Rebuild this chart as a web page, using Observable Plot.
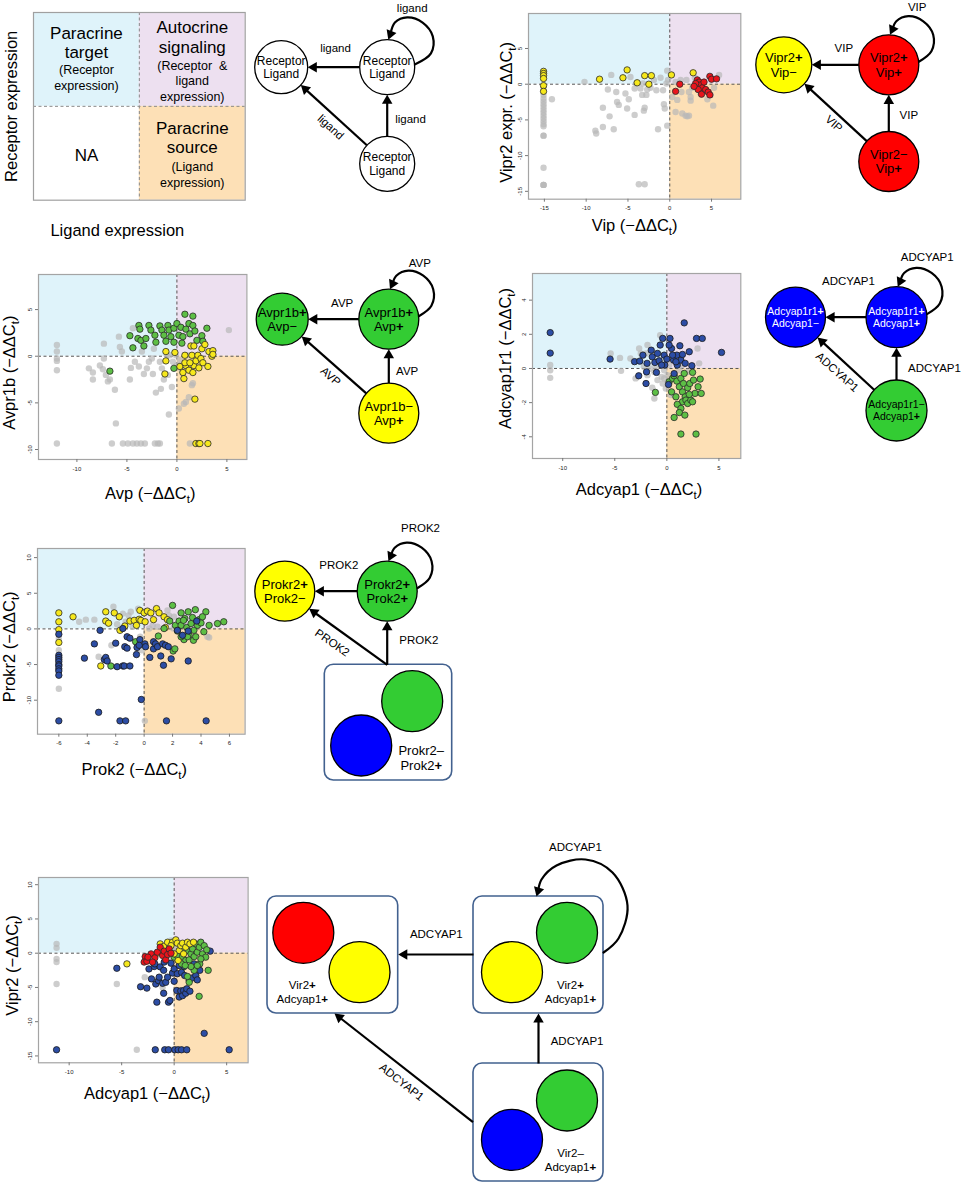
<!DOCTYPE html>
<html><head><meta charset="utf-8">
<script src="https://cdn.jsdelivr.net/npm/d3@7"></script>
<script src="https://cdn.jsdelivr.net/npm/@observablehq/plot@0.6"></script>
<style>
html,body{margin:0;padding:0;background:#fff;}
#root{position:relative;width:961px;height:1190px;overflow:hidden;background:#fff;font-family:"Liberation Sans",Arial,Helvetica,sans-serif;}
#root > svg{position:absolute;overflow:visible;}
</style></head>
<body><div id="root"></div>
<script>
// ================= DATA =================
// Panel B: Vip vs Vipr2
const vipYellow = [[-15.1,1.8],[-15.1,1.5],[-15.1,1.2],[-15.1,0.8],[-15.1,-0.2],[-15.1,-1.0],[-8.4,0.7],[-5.6,0.9],[-5.1,2.0],[-3.9,0.2],[-3.0,1.2],[-2.2,1.2],[-2.5,0.0],[0.2,1.3],[2.8,1.6]];
const vipRed = [[0.7,-1.0],[1.2,0.0],[3.3,0.6],[3.5,0.3],[3.7,-0.1],[3.9,-0.5],[3.4,-0.75],[3.8,-1.4],[4.3,-0.75],[4.6,-1.1],[4.8,-1.5],[4.8,1.1],[5.0,0.7],[5.6,0.75],[3.1,0.1],[4.1,0.3],[2.9,-0.3]];
const vipGrey = [[-15.1,-0.5],[-15.1,-1.0],[-15.1,-1.5],[-15.1,-2.0],[-15.1,-2.4],[-15.1,-2.8],[-15.1,-3.2],[-15.1,-3.6],[-15.1,-4.0],[-15.1,-4.4],[-15.1,-4.8],[-15.1,-5.2],[-15.1,-5.6],[-15.1,-5.9],[-15.1,-7.2],[-15.1,-7.2],[-15.1,-11.7],[-15.1,-14.1],[-15.1,-14.1],[-15.1,-14.1],
 [-14.1,-2.1],[-10.2,0.3],[-8.9,-6.5],[-8.8,-6.9],[-8.0,-3.3],[-8.0,-6.0],[-7.4,-0.75],[-7.0,1.3],[-7.2,-4.5],[-6.7,-6.3],[-6.4,-1.1],[-6.3,-2.5],[-6.1,-2.9],[-5.3,-1.3],[-5.1,-3.4],[-4.9,-2.1],[-4.7,1.0],[-4.2,-0.6],[-4.2,-4.3],[-4.0,0.1],[-3.7,-14.0],[-3.0,-14.0],[-3.5,-0.6],[-3.3,-1.5],[-3.1,-3.7],[-3.0,-3.3],[-2.8,-1.5],[-2.7,-0.75],[-3.2,0.1],[-2.3,-0.5],[-1.9,0.6],[-1.6,-0.85],[-1.4,-6.3],[-1.1,0.9],[-0.8,-0.85],[-0.7,-2.8],[-0.6,-3.4],[-0.3,-5.8],[-0.3,1.9],[-0.2,0.6],[-0.4,0.1],[0.3,-1.8],[0.7,-3.9],[0.9,-2.2],[1.4,-1.1],[1.5,-4.1],[1.9,-4.4],[2.1,-4.5],[2.3,-4.4],[2.5,-2.3],[2.0,0.6],[3.0,0.9],[3.4,0.1],[2.7,-0.5],[1.3,0.6],[0.7,0.3],[4.5,-2.1],[5.2,-3.0],[5.9,1.3],[4.9,-1.5],[3.7,-1.3],[2.5,-1.8],[2.3,-1.1],[5.3,-0.5]];
const vipXTicks = [-15,-10,-5,0,5];
const vipYTicks = [-15,-10,-5,0,5];

// Panel C: Avp vs Avpr1b
const avpGreen = [[-6.7,-1.6],[-4.7,2.2],[-4.4,0.9],[-3.8,3.3],[-3.7,2.9],[-3.9,1.9],[-3.6,1.7],[-3.3,1.1],[-3.1,1.9],[-2.8,3.3],[-2.6,2.8],[-2.2,2.25],[-2.1,1.5],[-1.7,3.25],[-1.5,2.8],[-1.3,2.25],[-1.1,1.6],[-0.9,3.3],[-0.8,2.8],[-0.6,2.1],[-0.3,3.0],[0,3.5],[0.2,2.25],[0.4,3.1],[0.6,2.1],[0.8,4.5],[0.9,2.9],[1.2,3.5],[1.3,2.4],[1.6,4.3],[1.6,3.3],[1.8,2.7],[2.0,1.7],[2.5,2.2],[2.6,1.6],[3.0,3.0],[-0.3,-1.3],[-0.3,1.5],[0.5,1.4]];
const avpYellow = [[-1.2,-1.9],[-1.1,-0.5],[-1.1,0.5],[-0.2,0.4],[0.3,-1.1],[0.6,-1.75],[0.7,-2.4],[0.8,0.1],[0.9,-1.0],[1.2,-1.5],[1.4,1.1],[1.5,0.1],[1.6,-1.75],[1.7,-1.0],[1.9,-0.5],[2.1,0.1],[2.2,-1.25],[2.4,-0.25],[2.5,0.8],[2.6,-0.7],[2.8,1.25],[3.1,-1.1],[3.2,0.5],[3.5,0],[3.6,0.6],[3.6,0.2],[1.8,-4.6],[1.9,-9.36],[2.2,-9.36],[2.3,-9.36],[3.1,-9.36],[0.8,-0.7],[1.3,-0.7],[1.7,1.1]];
const avpGrey = [[-12,1.2],[-12,0.5],[-12,-0.25],[-12,-0.5],[-12,-1.5],[-12,-9.36],[-8.8,-1.3],[-8.4,-1.75],[-8.4,-2.5],[-7.7,-1.0],[-7.4,-1.4],[-7.3,1.35],[-7.3,-0.25],[-7.1,-2.0],[-6.9,-2.7],[-6.7,-2.5],[-6.5,-9.36],[-6.2,-3.6],[-6.1,-7.2],[-5.8,2.1],[-5.7,1.0],[-5.5,0.5],[-5.4,-9.36],[-4.9,-9.36],[-4.7,-2.5],[-4.6,-1.25],[-4.4,3.0],[-4.4,-9.36],[-4.2,-0.6],[-4.0,-9.36],[-3.8,-1.1],[-3.6,-9.36],[-3.5,0.5],[-3.3,-1.9],[-3.2,-9.36],[-3.0,-1.3],[-2.8,-0.6],[-2.5,-0.25],[-2.4,-1.9],[-2.2,-9.36],[-2.1,-3.9],[-1.9,-9.36],[-1.7,-9.36],[-1.6,-3.5],[-1.5,-1.3],[-1.3,-2.5],[-0.9,-2.0],[-0.8,-6.25],[-0.7,0.1],[-0.5,-3.3],[-0.4,-0.6],[-0.1,0.1],[0,-1.0],[0.2,-5.6],[0.3,-0.4],[0.5,-1.5],[0.7,-5.1],[0.9,-4.9],[1.2,-4.4],[1.5,-3.1],[1.6,-2.9],[1.0,0.1],[1.3,-9.36],[5.2,2.8],[-1.7,-0.6],[-2.3,0.8],[-1.0,0.1]];
const avpXTicks = [-10,-5,0,5];
const avpYTicks = [-10,-5,0,5];

// Panel D: Adcyap1 vs Adcyap1r1
const adcBlue = [[-11.2,2.1],[-11.2,0.9],[-5.45,0.55],[-3.1,0.4],[-2.7,-0.43],[-2.6,0.43],[-2.3,0.78],[-2.0,-0.88],[-1.9,0.3],[-1.95,-0.2],[-1.5,1.07],[-1.4,0.68],[-1.15,0.35],[-1.0,-0.23],[-0.9,0.88],[-0.74,0.45],[-0.64,1.37],[-0.4,1.76],[-0.26,0.78],[-0.2,0.2],[0,0.55],[0.16,-0.94],[0.3,1.76],[0.45,1.17],[0.64,0.49],[0.7,-0.3],[0.96,0.78],[1.0,0.2],[1.25,1.33],[1.35,0.49],[1.5,0.82],[1.67,2.67],[1.76,0.3],[2.15,0.98],[2.4,0.16],[2.85,1.76],[3.4,1.76],[5.25,0.94],[0.22,1.37],[0.87,0.39],[0.55,0.78],[-0.5,0.2]];
const adcGreen = [[-1.1,-1.4],[0.22,-0.78],[0.55,-0.58],[0.7,-0.43],[0.96,-0.74],[1.2,-1.07],[1.35,-0.58],[1.5,-1.37],[1.6,-0.88],[1.76,-1.66],[1.67,-0.29],[2.0,-1.13],[2.2,-0.88],[2.47,-0.23],[2.56,-0.68],[2.7,-1.46],[3.0,-1.07],[3.2,-0.62],[3.3,-1.46],[1.5,-1.95],[1.83,-1.85],[2.0,-2.05],[2.3,-1.85],[1.0,-2.1],[1.35,-2.34],[1.2,-2.58],[0.7,-2.87],[1.73,-2.73],[1.35,-3.84],[2.8,-3.84],[2.15,-1.52],[0.45,-1.37],[0.87,-1.66],[2.47,-1.95]];
const adcGrey = [[-11.2,0.2],[-11.2,-0.1],[-11.2,-0.55],[-5.4,0.88],[-4.5,0.62],[-4.4,-0.14],[-3.5,0.58],[-3.0,-0.58],[-2.66,1.17],[-2.5,0.88],[-2.0,0.88],[-1.86,1.37],[-1.6,0],[-1.4,-1.13],[-1.2,-1.76],[-0.9,-0.68],[-0.64,1.95],[-0.5,-0.49],[-0.4,-0.88],[-0.26,-0.1],[-0.1,-1.17],[0.06,-0.39],[0.22,0.2],[0.38,-1.56],[0.7,-1.56],[1.2,-0.1],[1.5,0.2],[2.0,-0.2],[2.95,1.17],[3.1,0.3],[-1.2,-0.2],[-0.9,0.39],[-0.58,0.2],[-0.26,-0.58],[0.06,-0.78],[-1.86,-0.39],[-1.06,0],[-2.2,0.1]];
const adcXTicks = [-10,-5,0,5];
const adcYTicks = [-4,-2,0,2,4];

// Panel E: Prok2 vs Prokr2
const prokBlue = [[-6,-0.75],[-6,-3.7],[-6,-4.0],[-6,-4.3],[-6,-4.6],[-6,-5.0],[-6,-5.2],[-6,-5.6],[-6,-5.9],[-6,-6.5],[-6,-12.9],[-4.2,-4.1],[-3.5,-2.1],[-3.1,-0.2],[-3.2,-11.7],[-2.8,-4.3],[-2.7,-4.0],[-2.6,-4.5],[-2.0,-2.0],[-1.9,-5.3],[-1.7,-12.9],[-1.5,-5.2],[-1.5,0.05],[-1.4,-5.2],[-1.36,-2.5],[-1.2,-2.7],[-1.3,-12.9],[-1.2,-1.1],[-1.0,-1.3],[-1.0,-5.2],[-0.5,-2.6],[-0.54,-3.6],[-0.3,-1.5],[-0.2,-9.9],[0.05,-2.1],[0.1,-2.5],[0.4,-4.0],[0.66,-2.8],[0.66,-1.8],[0.8,-2.1],[0.94,-2.5],[1.17,-3.8],[1.3,-2.1],[1.36,-5.1],[1.5,-2.3],[1.57,-12.9],[1.7,-2.5],[1.9,-4.2],[2.34,-0.2],[2.7,-0.9],[3.1,-4.5],[3.1,-0.3],[3.7,1.1],[4.36,-12.9],[-0.35,-2.3]];
const prokYellow = [[-6,2.25],[-6,1.0],[-6,-0.1],[-6,-1.9],[-5.0,1.7],[-3.05,-5.2],[-2.7,2.4],[-2.7,1.1],[-2.5,0.8],[-2.1,2.25],[-1.75,1.7],[-1.7,-0.2],[-1.36,0.4],[-1.0,1.1],[-0.7,1.2],[-0.54,0.5],[-0.35,1.35],[-0.3,2.6],[0,2.25],[0.23,2.5],[0.47,2.25],[0.66,1.3],[0.87,2.85],[1.05,2.25],[1.4,1.7],[1.64,1.3],[1.5,0.2],[-0.23,1.2],[0.07,1.0]];
const prokGreen = [[-2.34,-5.2],[-0.6,-1.8],[1.0,-1.0],[1.4,0.05],[1.8,1.1],[2.0,3.3],[2.04,-3.1],[2.16,-2.8],[2.2,0.5],[2.34,-0.3],[2.46,1.1],[2.6,2.25],[2.6,0.5],[2.8,-1.5],[2.86,1.45],[3.0,0.2],[3.1,2.4],[3.16,-0.9],[3.3,0.75],[3.4,1.6],[3.47,-1.6],[3.5,-0.2],[3.6,2.7],[3.75,0.5],[3.87,1.3],[4.0,0.84],[4.2,-0.4],[4.34,2.4],[4.57,0.5],[5.16,0.75],[5.6,1.0],[3.63,-1.1],[3.05,-1.1],[2.6,-1.1],[2.77,1.2],[4.1,1.7]];
const prokGrey = [[-6,-1.35],[-6,-3.0],[-6,-8.4],[-4.57,1.0],[-4.1,1.3],[-3.5,1.3],[-3.2,-3.9],[-2.3,-2.3],[-2.16,3.1],[-1.9,0.65],[-1.5,2.15],[-1.3,1.0],[-1.1,1.9],[-0.94,2.4],[-0.8,0.3],[-0.6,1.2],[-0.42,2.85],[-0.28,-1.1],[-0.16,-3.0],[0.05,-12.9],[0.35,0.05],[0.6,0.5],[0.94,0.3],[1.64,2.6],[1.75,1.9],[2.06,0.05],[2.1,1.7],[4.45,-1.1],[4.57,-1.2]];
const prokXTicks = [-6,-4,-2,0,2,4,6];
const prokYTicks = [-10,-5,0,5,10];

// Panel F: Adcyap1 vs Vipr2
const vipr2Blue = [[-11.2,-14.1],[-5.46,-2.2],[-3.2,-4.9],[-2.6,-5.1],[-2.4,-2.3],[-2.16,-3.75],[-1.9,-1.95],[-1.84,-1.56],[-1.75,-4.5],[-1.65,-7.15],[-1.5,-4.0],[-1.43,-3.5],[-1.33,-2.0],[-1.1,-4.4],[-1.0,-2.5],[-1.0,-5.85],[-0.95,-1.3],[-0.8,-4.25],[-0.63,-3.5],[-0.54,-7.15],[-0.4,-6.9],[-0.3,-1.46],[-0.16,-2.9],[0,-4.1],[0,-2.3],[0.25,-5.45],[0.3,-3.0],[0.48,-1.8],[0.48,-6.4],[0.63,-5.5],[0.7,-2.8],[0.8,-6.2],[0.9,-5.45],[0.95,-1.95],[1.0,-3.26],[1.1,-5.85],[1.2,-5.2],[1.43,-4.0],[1.5,-5.55],[1.75,-3.6],[1.9,-1.56],[2.06,-3.26],[2.2,-3.9],[2.44,-2.5],[2.86,-11.7],[3.43,0.3],[5.24,-14.1],[-1.8,-14.1],[-0.9,-14.1],[-0.54,-14.1],[0.06,-14.1],[0.38,-14.1],[0.7,-14.1],[1.2,-14.1]];
const vipr2Green = [[0,-0.58],[0.3,-0.34],[0.8,-0.5],[0.9,0.39],[1.1,-1.07],[1.27,0.39],[1.43,-0.97],[1.6,-0.1],[1.75,0.63],[1.9,-0.5],[2.06,1.36],[2.2,0.15],[2.4,0.88],[2.44,-1.56],[2.54,1.6],[2.7,-0.1],[2.86,1.1],[3.0,-0.58],[3.1,0.5],[3.24,-2.5],[2.38,-6.3],[1.43,-4.25],[1.27,-3.4],[0.7,-1.56],[1.9,-2.5],[2.2,-1.8],[2.54,-0.83],[1.6,-1.95],[1.05,-1.8]];
const vipr2Yellow = [[-4.5,-1.56],[-1.6,0],[-1.33,1.36],[-1.0,1.0],[-0.63,1.6],[-0.16,1.6],[0.16,1.95],[0.3,1.46],[0.48,0.39],[0.63,1.1],[0.8,1.46],[1.1,0.88],[1.27,1.6],[1.5,1.36],[1.84,1.6],[0.38,-1.07],[0.9,-0.1],[0,-0.1],[-0.3,1.1]];
const vipr2Red = [[-2.76,-0.5],[-2.86,-1.3],[-2.6,-1.17],[-2.2,-0.1],[-1.84,-0.68],[-1.6,0.15],[-1.33,0.88],[-1.1,-0.34],[-0.95,0.3],[-0.8,-0.97],[-0.63,-0.2],[-0.48,0.63],[-0.3,0],[-2.5,-0.58],[-2.06,-1.3]];
const vipr2Grey = [[-11.2,1.36],[-11.2,0.78],[-11.2,-0.83],[-11.2,-1.3],[-11.2,-4.5],[-5.46,-4.5],[-3.56,-14.1],[-2.8,-3.5],[-0.3,1.85],[-0.7,0.39],[-0.16,-14.1],[-0.48,-0.58],[0,0.39],[0.16,0.88],[-1.1,-5.0]];
const vipr2XTicks = [-10,-5,0,5];
const vipr2YTicks = [-15,-10,-5,0,5,10];

// Panel A: quadrant legend texts
const quadTitles = [
  {q:"target", text:"Paracrine\ntarget"},
  {q:"auto", text:"Autocrine\nsignaling"},
  {q:"na", text:"NA"},
  {q:"source", text:"Paracrine\nsource"}];
const quadNotes = [
  {q:"target", text:"(Receptor\nexpression)"},
  {q:"auto", text:"(Receptor \u00a0&\nligand\nexpression)"},
  {q:"source", text:"(Ligand\nexpression)"}];
const quadCells = {target:[0,1,1,2], auto:[1,2,1,2], na:[0,1,0,1], source:[1,2,0,1]};

// Network diagrams: nodes, anchors, edges, loops, labels
const netNodes = [
  {id:"A1", x:280.7, y:66.7, r:26.5, kind:"none", label:"Receptor\nLigand"},
  {id:"A2", x:386.7, y:66.7, r:27.5, kind:"none", label:"Receptor\nLigand"},
  {id:"A3", x:386.7, y:163.3, r:27.5, kind:"none", label:"Receptor\nLigand"},
  {id:"B1", x:783.3, y:64.3, r:28, kind:"yellow", label:"Vipr2+\nVip\u2212"},
  {id:"B2", x:888.3, y:64.3, r:30, kind:"red", label:"Vipr2+\nVip+"},
  {id:"B3", x:888.3, y:161, r:30, kind:"red", label:"Vipr2\u2212\nVip+"},
  {id:"C1", x:281.7, y:318.7, r:26, kind:"green", label:"Avpr1b+\nAvp\u2212"},
  {id:"C2", x:388.3, y:318.7, r:30, kind:"green", label:"Avpr1b+\nAvp+"},
  {id:"C3", x:388.3, y:412.7, r:30, kind:"yellow", label:"Avpr1b\u2212\nAvp+"},
  {id:"D1", x:795, y:316.7, r:30, kind:"blue", label:"Adcyap1r1+\nAdcyap1\u2212"},
  {id:"D2", x:896, y:316.7, r:30.5, kind:"blue", label:"Adcyap1r1+\nAdcyap1+"},
  {id:"D3", x:896, y:410, r:30.5, kind:"green", label:"Adcyap1r1\u2212\nAdcyap1+"},
  {id:"E1", x:284.3, y:590.7, r:30, kind:"yellow", label:"Prokr2+\nProk2\u2212"},
  {id:"E2", x:386.7, y:590.7, r:30, kind:"green", label:"Prokr2+\nProk2+"},
  {id:"E3", x:411.7, y:700.7, r:30.5, kind:"green", label:""},
  {id:"E4", x:360.7, y:745, r:30.5, kind:"blue", label:""},
  {id:"F1", x:302.8, y:932.3, r:30.5, kind:"red", label:""},
  {id:"F2", x:359, y:971.7, r:30.5, kind:"yellow", label:""},
  {id:"F3", x:511.5, y:971.7, r:30.5, kind:"yellow", label:""},
  {id:"F4", x:566.5, y:932.3, r:30.5, kind:"green", label:""},
  {id:"F5", x:566.5, y:1100, r:30.5, kind:"green", label:""},
  {id:"F6", x:511.5, y:1139.3, r:30.5, kind:"blue", label:""}];
const netBoxes = [
  {id:"Ebox", x1:324.3, y1:664.3, x2:451.7, y2:780},
  {id:"Fbox1", x1:267, y1:896, x2:397.7, y2:1013},
  {id:"Fbox2", x1:473, y1:896, x2:603, y2:1013},
  {id:"Fbox3", x1:473, y1:1063, x2:603, y2:1181}];
const boxTexts = [
  {text:"Prokr2\u2013\nProk2+", x:420.7, y:757, panel:"E"},
  {text:"Vir2+\nAdcyap1+", x:301.8, y:991, panel:"F"},
  {text:"Vir2+\nAdcyap1+", x:570, y:991, panel:"F"},
  {text:"Vir2\u2013\nAdcyap1+", x:570, y:1158.7, panel:"F"}];
const netAnchors = [
  {id:"EboxT", x:386.7, y:664.3},
  {id:"F2L", x:473, y:954}, {id:"F1R", x:397.7, y:954},
  {id:"F3T", x:538, y:1063}, {id:"F2B", x:538, y:1013},
  {id:"F3L", x:472.5, y:1121.7}, {id:"F1B", x:334, y:1013}];
const netEdges = [
  {from:"A2", to:"A1"}, {from:"A3", to:"A2"}, {from:"A3", to:"A1"},
  {from:"B2", to:"B1"}, {from:"B3", to:"B2"}, {from:"B3", to:"B1"},
  {from:"C2", to:"C1"}, {from:"C3", to:"C2"}, {from:"C3", to:"C1"},
  {from:"D2", to:"D1"}, {from:"D3", to:"D2"}, {from:"D3", to:"D1"},
  {from:"E2", to:"E1"}, {from:"EboxT", to:"E2"}, {from:"EboxT", to:"E1"},
  {from:"F2L", to:"F1R"}, {from:"F3T", to:"F2B"}, {from:"F3L", to:"F1B"}];
const netLoops = [
  {id:"LA", node:"A2", k:1.12}, {id:"LB", node:"B2", k:1}, {id:"LC", node:"C2", k:1},
  {id:"LD", node:"D2", k:1}, {id:"LE", node:"E2", k:1},
  {id:"LF", points:[[603,952],[618,938],[627,905],[612,872],[585,859],[556,865],[541,879]], tip:[536,896]}];
const loopTemplate = [[1.0,-0.1],[1.42,-0.45],[1.48,-1.0],[1.15,-1.45],[0.65,-1.62],[0.25,-1.45]];
const loopTip = [0.04,-1.0];
const netLabels = [
  {text:"ligand", x:335, y:47.7}, {text:"ligand", x:411.7, y:8.3}, {text:"ligand", x:410, y:119}, {text:"ligand", x:330, y:126.7, angle:42},
  {text:"VIP", x:843.3, y:48.3}, {text:"VIP", x:916.7, y:6.7}, {text:"VIP", x:908.3, y:115}, {text:"VIP", x:833.3, y:123.3, angle:42},
  {text:"AVP", x:341.7, y:303.3}, {text:"AVP", x:419.3, y:263.3}, {text:"AVP", x:406.7, y:370.7}, {text:"AVP", x:330, y:376, angle:41},
  {text:"ADCYAP1", x:848, y:280.7}, {text:"ADCYAP1", x:926.7, y:257.3}, {text:"ADCYAP1", x:934, y:368}, {text:"ADCYAP1", x:836.7, y:371.7, angle:42},
  {text:"PROK2", x:338.3, y:565}, {text:"PROK2", x:420, y:528}, {text:"PROK2", x:418.3, y:640}, {text:"PROK2", x:331.7, y:642.3, angle:35},
  {text:"ADCYAP1", x:435.8, y:934}, {text:"ADCYAP1", x:575, y:847}, {text:"ADCYAP1", x:576.6, y:1040.7}, {text:"ADCYAP1", x:401, y:1081.7, angle:38}];

// ================= STYLE =================
const FONT = '"Liberation Sans", Arial, Helvetica, sans-serif';
const QUAD = {target:"#dff3fa", auto:"#ede0f0", source:"#fde0b6", na:"#ffffff"};
const DOT = {
  grey:   {fill:"#b8b8b8", fillOpacity:0.7},
  yellow: {fill:"#f6e81c", stroke:"#2a2a2a", strokeWidth:0.8},
  red:    {fill:"#e8141c", stroke:"#2a2a2a", strokeWidth:0.8},
  green:  {fill:"#5dbf45", stroke:"#2a2a2a", strokeWidth:0.8},
  blue:   {fill:"#2c4da5", stroke:"#1a1a1a", strokeWidth:0.8}};
const NODE_FILL = {none:"#ffffff", yellow:"#ffff00", red:"#ff0000", green:"#33cc33", blue:"#0000ff"};
const NODE_FS = {A:12, B:13, C:13, D:10.5, E:13, F:11.5};
const QUAD_LAYOUT = {target:{t:-17.2, n:17.5}, auto:{t:-22.5, n:20.8}, na:{t:1.2}, source:{t:-16.1, n:20.6}};

const root = document.getElementById("root");
function place(svg, left, top) { svg.style.left = left + "px"; svg.style.top = top + "px"; root.appendChild(svg); }

// ================= NETWORK OVERLAY =================
const nodeById = new Map(netNodes.map(n => [n.id, n]));
const anchorById = new Map(netAnchors.map(a => [a.id, a]));
const centerOf = id => nodeById.get(id) || anchorById.get(id);
function boundary(id, toward) {
  const n = nodeById.get(id);
  if (!n) return anchorById.get(id);
  const dx = toward.x - n.x, dy = toward.y - n.y, L = Math.hypot(dx, dy);
  return {x: n.x + n.r * dx / L, y: n.y + n.r * dy / L};
}
const HEAD_R = 3.9;
const TIP = 2 * Math.sqrt(Math.PI * HEAD_R * HEAD_R / (3 * Math.sqrt(3)));
const segs = [], heads = [], loopPts = [];
function addHead(from, tip) {
  const L = Math.hypot(tip.x - from.x, tip.y - from.y);
  const ux = (tip.x - from.x) / L, uy = (tip.y - from.y) / L;
  const h = {x: tip.x - ux * TIP, y: tip.y - uy * TIP, rot: Math.atan2(ux, -uy) * 180 / Math.PI};
  heads.push(h);
  return h;
}
for (const e of netEdges) {
  const a = centerOf(e.from), b = centerOf(e.to);
  const s = boundary(e.from, b), t = boundary(e.to, a);
  const h = addHead(s, t);
  segs.push({x1: s.x, y1: s.y, x2: h.x, y2: h.y});
}
for (const L of netLoops) {
  let pts, tip;
  if (L.node) {
    const n = nodeById.get(L.node);
    pts = loopTemplate.map(([a, b], i) => ({x: n.x + a * n.r * (i ? L.k : 1), y: n.y + b * n.r * (i ? L.k : 1)}));
    tip = {x: n.x + loopTip[0] * n.r, y: n.y + loopTip[1] * n.r};
  } else {
    pts = L.points.map(([x, y]) => ({x, y}));
    tip = {x: L.tip[0], y: L.tip[1]};
  }
  const h = addHead(pts[pts.length - 1], tip);
  for (const p of pts) loopPts.push({...p, id: L.id});
  loopPts.push({x: h.x, y: h.y, id: L.id});
}

const overlay = Plot.plot({
  width: 961, height: 1190, margin: 0,
  x: {domain: [0, 961], range: [0, 961], axis: null},
  y: {domain: [0, 1190], range: [0, 1190], axis: null},
  r: {type: "identity"}, color: {type: "identity"},
  style: {background: "transparent", fontFamily: FONT, overflow: "visible"},
  marks: [
    Plot.rect(netBoxes, {x1: "x1", x2: "x2", y1: "y1", y2: "y2", rx: 9, fill: "white", stroke: "#42618f", strokeWidth: 1.6}),
    Plot.link(segs, {x1: "x1", y1: "y1", x2: "x2", y2: "y2", stroke: "black", strokeWidth: 2.2}),
    Plot.line(loopPts, {x: "x", y: "y", z: "id", curve: "catmull-rom", stroke: "black", strokeWidth: 2.2}),
    Plot.dot(netNodes, {x: "x", y: "y", r: "r", fill: d => NODE_FILL[d.kind], stroke: "black", strokeWidth: 1.3}),
    Plot.text(netNodes.filter(d => d.label), {x: "x", y: "y", text: "label", fontSize: d => NODE_FS[d.id[0]], lineHeight: 1.12,
      fill: d => d.kind === "blue" ? "white" : "black"}),
    Plot.text(boxTexts, {x: "x", y: "y", text: "text", fontSize: d => NODE_FS[d.panel], lineHeight: 1.2, fill: "black"}),
    Plot.text(netLabels, {x: "x", y: "y", text: "text", rotate: d => d.angle || 0, fontSize: 11.5, fill: "black"}),
    Plot.dot(heads, {x: "x", y: "y", r: HEAD_R, symbol: "triangle", rotate: "rot", fill: "black", stroke: "none"})
  ]
});
place(overlay, 0, 0);

// ================= PANEL A: QUADRANT LEGEND =================
{
  const frame = [33.3, 12.3, 245, 200];
  const m = 1;
  const marks = [];
  for (const q of ["target", "auto", "source"]) {
    const [x1, x2, y1, y2] = quadCells[q];
    marks.push(Plot.rect([q], {x1, x2, y1, y2, fill: QUAD[q]}));
  }
  marks.push(Plot.ruleX([1], {stroke: "#8a8a8a", strokeDasharray: "3,2.5"}));
  marks.push(Plot.ruleY([1], {stroke: "#8a8a8a", strokeDasharray: "3,2.5"}));
  marks.push(Plot.frame({stroke: "#a0a0a0", strokeWidth: 1.2}));
  for (const d of quadTitles) {
    const [x1, x2, y1, y2] = quadCells[d.q];
    marks.push(Plot.text([d], {x: (x1 + x2) / 2, y: (y1 + y2) / 2, text: "text", dy: QUAD_LAYOUT[d.q].t, fontSize: 17, lineHeight: 1.15, fill: "black"}));
  }
  for (const d of quadNotes) {
    const [x1, x2, y1, y2] = quadCells[d.q];
    marks.push(Plot.text([d], {x: (x1 + x2) / 2, y: (y1 + y2) / 2, text: "text", dy: QUAD_LAYOUT[d.q].n, fontSize: 12.5, lineHeight: 1.25, fill: "black"}));
  }
  marks.push(Plot.text(["Receptor expression"], {frameAnchor: "left", textAnchor: "middle", lineAnchor: "middle", rotate: -90, dx: -21.3, dy: 0, fontSize: 16.5, fill: "black"}));
  marks.push(Plot.text(["Ligand expression"], {frameAnchor: "bottom", textAnchor: "middle", lineAnchor: "middle", dx: -22, dy: 31, fontSize: 16.5, fill: "black"}));
  const chart = Plot.plot({
    width: frame[2] - frame[0] + 2 * m, height: frame[3] - frame[1] + 2 * m, margin: m,
    x: {domain: [0, 2], axis: null}, y: {domain: [0, 2], axis: null},
    style: {background: "transparent", fontFamily: FONT, overflow: "visible"},
    marks
  });
  place(chart, frame[0] - m, frame[1] - m);
}

// ================= SCATTER PANELS =================
const panels = [
  {frame: [527.7, 13.3, 740, 199], xDomain: [-16.9, 8.5], yDomain: [-16.1, 9.9], xTicks: vipXTicks, yTicks: vipYTicks,
   groups: [[vipGrey, "grey"], [vipYellow, "yellow"], [vipRed, "red"]],
   xLabel: "Vip (\u2212\u0394\u0394C_t)", yLabel: "Vipr2 expr. (\u2212\u0394\u0394C_t)", xl: [0, 27], yl: [-21.5, 6]},
  {frame: [38.3, 274.3, 246.7, 459.3], xDomain: [-13.84, 7.0], yDomain: [-11.07, 8.76], xTicks: avpXTicks, yTicks: avpYTicks,
   groups: [[avpGrey, "grey"], [avpGreen, "green"], [avpYellow, "yellow"]],
   xLabel: "Avp (\u2212\u0394\u0394C_t)", yLabel: "Avpr1b (\u2212\u0394\u0394C_t)", xl: [7.5, 34], yl: [-28.3, 5.7]},
  {frame: [531.7, 273.3, 740, 458.3], xDomain: [-12.9, 7.1], yDomain: [-5.27, 5.56], xTicks: adcXTicks, yTicks: adcYTicks,
   groups: [[adcGrey, "grey"], [adcGreen, "green"], [adcBlue, "blue"]],
   xLabel: "Adcyap1 (\u2212\u0394\u0394C_t)", yLabel: "Adcyap1r1 (\u2212\u0394\u0394C_t)", xl: [2.4, 31.7], yl: [-26.7, -7.5]},
  {frame: [36.7, 548.3, 244.3, 734], xDomain: [-7.5, 7.1], yDomain: [-14.77, 11.28], xTicks: prokXTicks, yTicks: prokYTicks,
   groups: [[prokGrey, "grey"], [prokYellow, "yellow"], [prokGreen, "green"], [prokBlue, "blue"]],
   xLabel: "Prok2 (\u2212\u0394\u0394C_t)", yLabel: "Prokr2 (\u2212\u0394\u0394C_t)", xl: [-7, 35.3], yl: [-27.7, 5.5]},
  {frame: [37.7, 877, 247.3, 1062.3], xDomain: [-12.92, 7.04], yDomain: [-16.0, 11.05], xTicks: vipr2XTicks, yTicks: vipr2YTicks,
   groups: [[vipr2Grey, "grey"], [vipr2Blue, "blue"], [vipr2Green, "green"], [vipr2Yellow, "yellow"], [vipr2Red, "red"]],
   xLabel: "Adcyap1 (\u2212\u0394\u0394C_t)", yLabel: "Vipr2 (\u2212\u0394\u0394C_t)", xl: [4, 31], yl: [-26, -4.7]}
];

for (const p of panels) {
  const [fl, ft, fr, fb] = p.frame;
  const mL = 45, mR = 6, mT = 6, mB = 45;
  const [x0, x1] = p.xDomain, [y0, y1] = p.yDomain;
  const marks = [
    Plot.rect([0], {x1: x0, x2: 0, y1: 0, y2: y1, fill: QUAD.target}),
    Plot.rect([0], {x1: 0, x2: x1, y1: 0, y2: y1, fill: QUAD.auto}),
    Plot.rect([0], {x1: 0, x2: x1, y1: y0, y2: 0, fill: QUAD.source}),
    Plot.ruleX([0], {stroke: "#555", strokeDasharray: "3,2.5", strokeWidth: 1}),
    Plot.ruleY([0], {stroke: "#555", strokeDasharray: "3,2.5", strokeWidth: 1}),
    Plot.frame({stroke: "#a4a4a4", strokeWidth: 1.2}),
    ...p.groups.map(([data, kind]) => Plot.dot(data, {x: d => d[0], y: d => d[1], r: 3.2, ...DOT[kind]})),
    Plot.axisX({ticks: p.xTicks, tickFormat: d => String(d), tickSize: 3, tickPadding: 4, fontSize: 6, label: null, stroke: "#777", fill: "#222"}),
    Plot.axisY({ticks: p.yTicks, tickFormat: d => String(d), tickSize: 3, tickPadding: 4, tickRotate: -90, fontSize: 6, label: null, stroke: "#777", fill: "#222"}),
    Plot.text([p.xLabel], {frameAnchor: "bottom", textAnchor: "middle", lineAnchor: "middle", dx: p.xl[0], dy: p.xl[1], fontSize: 16.5, fill: "black"}),
    Plot.text([p.yLabel], {frameAnchor: "left", textAnchor: "middle", lineAnchor: "middle", rotate: -90, dx: p.yl[0], dy: p.yl[1], fontSize: 16.5, fill: "black"})
  ];
  const chart = Plot.plot({
    width: fr - fl + mL + mR, height: fb - ft + mT + mB,
    marginLeft: mL, marginRight: mR, marginTop: mT, marginBottom: mB,
    x: {domain: p.xDomain}, y: {domain: p.yDomain},
    style: {background: "transparent", fontFamily: FONT, overflow: "visible"},
    marks
  });
  place(chart, fl - mL, ft - mT);
}

// ================= text post-processing =================
const NS = "http://www.w3.org/2000/svg";
// subscript "t" in axis labels
root.querySelectorAll("text, tspan").forEach(t => {
  if (t.children.length === 0 && t.textContent.includes("C_t")) {
    const [a, b] = t.textContent.split("C_t");
    t.textContent = a + "C";
    const sub = document.createElementNS(NS, "tspan");
    sub.setAttribute("dy", "4"); sub.setAttribute("font-size", "11.5"); sub.textContent = "t";
    const rest = document.createElementNS(NS, "tspan");
    rest.setAttribute("dy", "-4"); rest.textContent = b;
    t.appendChild(sub); t.appendChild(rest);
  }
});
// bold "+" signs in the network node labels (as in the original figure)
overlay.querySelectorAll("text, tspan").forEach(t => {
  if (t.children.length === 0 && /\+$/.test(t.textContent)) {
    const s = t.textContent;
    t.textContent = s.slice(0, -1);
    const plus = document.createElementNS(NS, "tspan");
    plus.setAttribute("font-weight", "bold");
    plus.textContent = "+";
    t.appendChild(plus);
  }
});
</script></body></html>
